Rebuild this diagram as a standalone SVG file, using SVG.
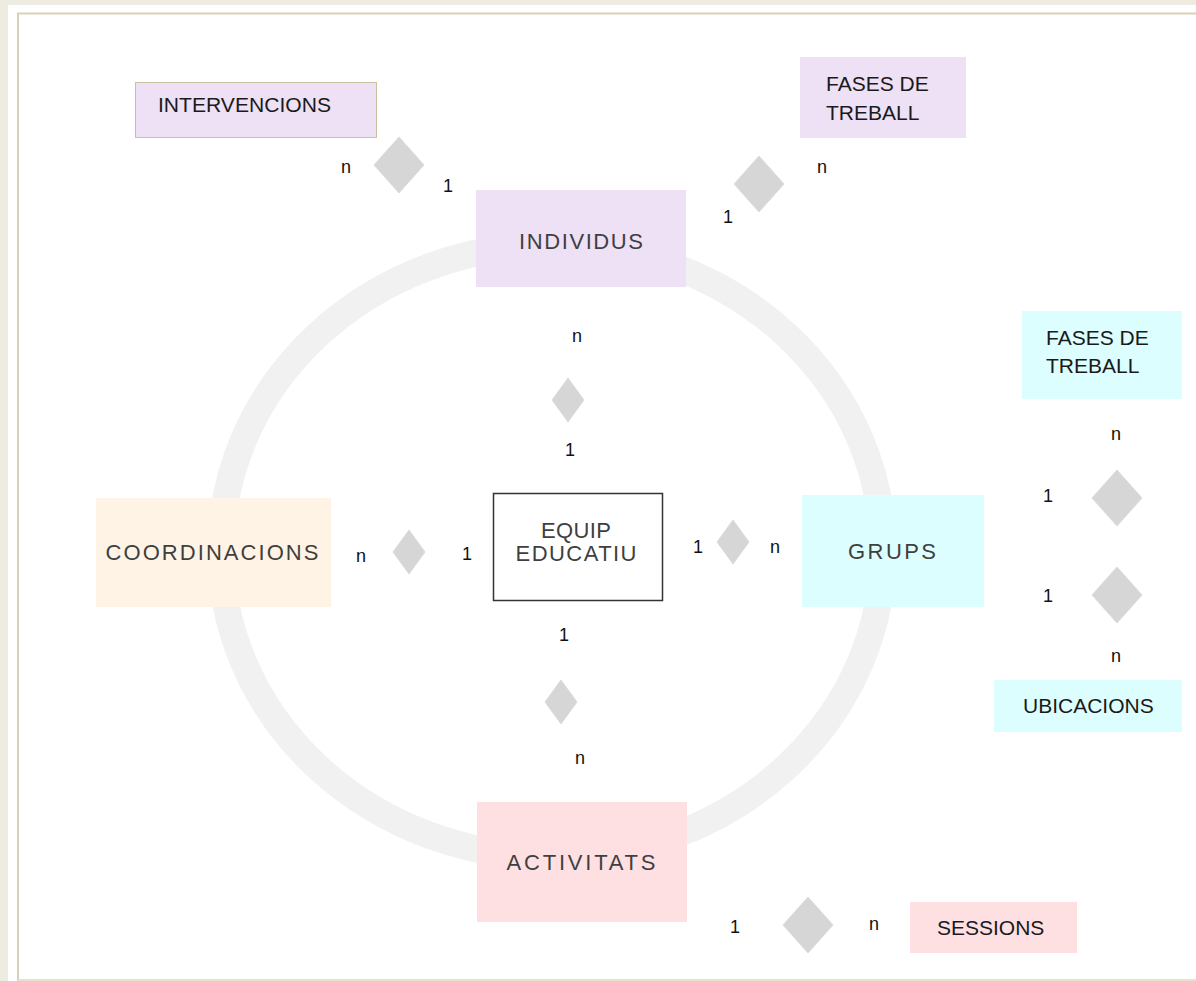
<svg xmlns="http://www.w3.org/2000/svg" width="1196" height="981" viewBox="0 0 1196 981">
<style>
  .lbl { font-family: "Liberation Sans", Arial, sans-serif; font-size: 18px; fill: #111; text-anchor: middle; }
  .bt { font-family: "Liberation Sans", Arial, sans-serif; font-size: 21px; fill: #1a1a1a; }
  .gt { font-family: "Liberation Sans", Arial, sans-serif; font-size: 22px; fill: #3f3f3f; text-anchor: middle; }
  .dia { fill: #D6D6D6; stroke: #DCDCDC; stroke-width: 1; }
  .lav { fill: #EEE0F5; }
  .cyan { fill: #DCFEFF; }
  .pink { fill: #FFE0E2; }
  .peach { fill: #FFF3E6; }
</style>
<rect x="0" y="0" width="1196" height="981" fill="#EEECE1"/>
<rect x="8" y="5" width="1188" height="976" fill="#FFFFFF"/>
<path d="M18 981 V13.5 H1196" fill="none" stroke="#D8D1B6" stroke-width="2"/>
<line x1="18" y1="980" x2="1196" y2="980" stroke="#E6E1CC" stroke-width="2"/>

<ellipse cx="552" cy="551" rx="331" ry="306" fill="none" stroke="#F1F1F1" stroke-width="27"/>

<g id="connectors">
  <polygon class="dia" points="399,137 424,165 399,193 374,165"/>
  <polygon class="dia" points="759,156 784,184 759,212 734,184"/>
  <polygon class="dia" points="568,378 584,400 568,422 552,400"/>
  <polygon class="dia" points="409,530 425,552 409,574 393,552"/>
  <polygon class="dia" points="733,520 749,542 733,564 717,542"/>
  <polygon class="dia" points="561,680 577,702 561,724 545,702"/>
  <polygon class="dia" points="1117,470 1142,498 1117,526 1092,498"/>
  <polygon class="dia" points="1117,567 1142,595 1117,623 1092,595"/>
  <polygon class="dia" points="808,897 833,925 808,953 783,925"/>
  <text class="lbl" x="346" y="173">n</text>
  <text class="lbl" x="448" y="192">1</text>
  <text class="lbl" x="822" y="173">n</text>
  <text class="lbl" x="728" y="223">1</text>
  <text class="lbl" x="577" y="342">n</text>
  <text class="lbl" x="570" y="456">1</text>
  <text class="lbl" x="361" y="562">n</text>
  <text class="lbl" x="467" y="560">1</text>
  <text class="lbl" x="698" y="553">1</text>
  <text class="lbl" x="775" y="553">n</text>
  <text class="lbl" x="564" y="641">1</text>
  <text class="lbl" x="580" y="764">n</text>
  <text class="lbl" x="1116" y="440">n</text>
  <text class="lbl" x="1048" y="502">1</text>
  <text class="lbl" x="1048" y="602">1</text>
  <text class="lbl" x="1116" y="662">n</text>
  <text class="lbl" x="735" y="933">1</text>
  <text class="lbl" x="874" y="930">n</text>
</g>

<g id="intervencions">
  <rect class="lav" x="135.5" y="82.5" width="241" height="55" stroke="#C9C0A2" stroke-width="1"/>
  <text class="bt" x="158" y="112" textLength="173" lengthAdjust="spacingAndGlyphs">INTERVENCIONS</text>
</g>
<g id="fases-individus">
  <rect class="lav" x="800" y="57" width="166" height="81"/>
  <text class="bt" x="826" y="91">FASES DE</text>
  <text class="bt" x="826" y="120">TREBALL</text>
</g>
<g id="individus">
  <rect class="lav" x="476" y="190" width="210" height="97"/>
  <text class="gt" x="581" y="249" textLength="124" lengthAdjust="spacing">INDIVIDUS</text>
</g>
<g id="coordinacions">
  <rect class="peach" x="96" y="498" width="235" height="109"/>
  <text class="gt" x="212" y="560" textLength="213" lengthAdjust="spacing">COORDINACIONS</text>
</g>
<g id="equip">
  <rect x="493.5" y="493.5" width="169" height="107" fill="#FFFFFF" stroke="#333" stroke-width="1.5"/>
  <text class="gt" x="576" y="538" font-size="18" textLength="70" lengthAdjust="spacing">EQUIP</text>
  <text class="gt" x="576" y="561" font-size="18" textLength="121" lengthAdjust="spacing">EDUCATIU</text>
</g>
<g id="grups">
  <rect class="cyan" x="802" y="495" width="182" height="112"/>
  <text class="gt" x="892" y="559" textLength="88" lengthAdjust="spacing">GRUPS</text>
</g>
<g id="fases-grups">
  <rect class="cyan" x="1022" y="311" width="160" height="88"/>
  <text class="bt" x="1046" y="345">FASES DE</text>
  <text class="bt" x="1046" y="373">TREBALL</text>
</g>
<g id="ubicacions">
  <rect class="cyan" x="994" y="680" width="188" height="52"/>
  <text class="bt" x="1023" y="713">UBICACIONS</text>
</g>
<g id="activitats">
  <rect class="pink" x="477" y="802" width="210" height="120"/>
  <text class="gt" x="581" y="870" textLength="149" lengthAdjust="spacing">ACTIVITATS</text>
</g>
<g id="sessions">
  <rect class="pink" x="910" y="902" width="167" height="51"/>
  <text class="bt" x="937" y="935">SESSIONS</text>
</g>
</svg>
